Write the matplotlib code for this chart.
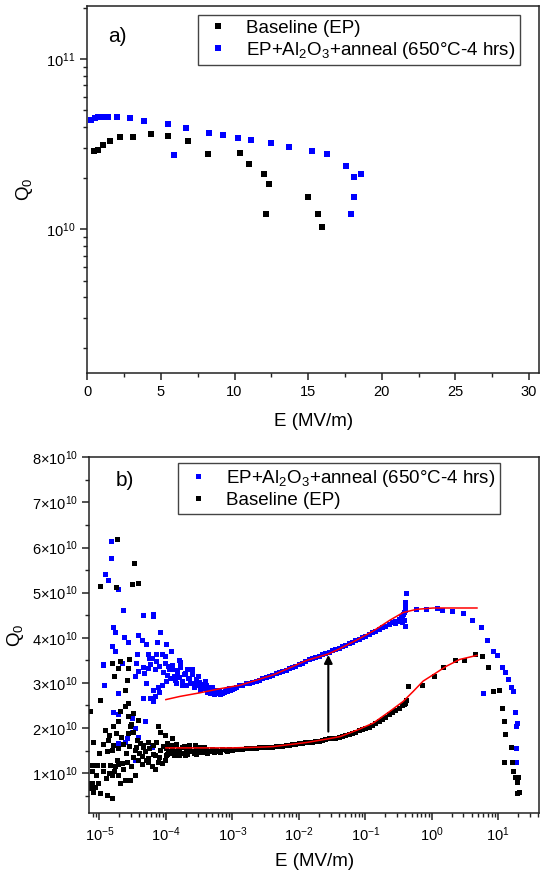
import numpy as np
import matplotlib
matplotlib.use('Agg')
import matplotlib.pyplot as plt
from matplotlib.ticker import (MultipleLocator, LogLocator, FuncFormatter,
                               FixedLocator, NullFormatter, LogFormatterSciNotation)

plt.rcParams['font.family'] = ['Liberation Sans', 'DejaVu Sans']
plt.rcParams['mathtext.fontset'] = 'custom'
plt.rcParams['mathtext.rm'] = 'Liberation Sans'
plt.rcParams['mathtext.it'] = 'Liberation Sans:italic'
plt.rcParams['mathtext.default'] = 'regular'

LBL_BASE = 'Baseline (EP)'
LBL_AL = 'EP+Al$_2$O$_3$+anneal (650°C-4 hrs)'

# ---- panel a) : Q0 vs E (linear E) ----
a_base_E = [0.43, 0.72, 1.06, 1.52, 2.19, 3.08, 4.32, 5.50, 6.86, 8.17, 10.34,
            11.0, 12.02, 12.31, 12.13, 15.0, 15.70, 15.93]
a_base_Q = [2.90e10, 2.93e10, 3.13e10, 3.31e10, 3.47e10, 3.48e10, 3.61e10, 3.56e10,
            3.31e10, 2.78e10, 2.81e10, 2.41e10, 2.13e10, 1.84e10, 1.24e10, 1.56e10,
            1.24e10, 1.03e10]
a_al_E = [0.27, 0.50, 0.72, 0.95, 1.18, 1.40, 2.01, 2.87, 3.87, 5.45, 5.86, 6.70,
          8.26, 9.19, 10.25, 11.13, 12.49, 13.71, 15.23, 16.27, 17.56, 18.10, 18.56,
          18.08, 17.88]
a_al_Q = [4.37e10, 4.54e10, 4.58e10, 4.58e10, 4.58e10, 4.58e10, 4.58e10, 4.50e10,
          4.34e10, 4.18e10, 2.75e10, 3.94e10, 3.66e10, 3.58e10, 3.44e10, 3.33e10,
          3.20e10, 3.05e10, 2.89e10, 2.79e10, 2.36e10, 2.02e10, 2.11e10, 1.54e10,
          1.24e10]

# ---- panel b) : Q0 vs E (log E), values as log10(E) and Q0/1e10 ----
b_al_logE = [-4.829, -4.824, -4.914, -4.865, -4.714, -4.639, -4.338, -4.188, -4.197,
             -4.789, -4.764, -4.092, -4.414, -4.629, -4.573, -4.362, -4.302, -4.128,
             -4.002, -4.814, -4.764, -3.917, -4.429, -4.263, -4.152, -4.062, -4.012,
             -4.212, -3.806, -4.940, -4.663, -4.012, -4.238,
             -4.940, -4.689, -4.463, -4.414, -4.323, -4.263, -4.162, -4.102, -4.012,
             -3.962, -3.911, -3.836, -3.786, -3.711, -3.662, -3.611, -3.561, -3.511,
             -3.460, -3.411, -3.361, -3.310, -3.260, -3.211, -3.159, -3.110, -4.062,
             -4.113, -3.862, -3.761, -4.238, -4.188, -4.338, -4.162, -4.714, -4.925,
             -4.789, -4.714, -4.513, -4.463, -4.513, -4.588, -4.614, -4.714, -4.414,
             -4.463, -4.313, -4.212,
             -4.05, -4.00, -3.98, -3.95, -3.93, -3.90, -3.88, -3.85, -3.83, -3.80,
             -3.78, -3.75, -3.73, -3.70, -3.68, -3.65, -3.63, -3.60, -3.58, -3.55,
             -3.53, -3.50, -3.48, -3.45, -3.43, -3.40, -3.38, -3.35, -3.33, -3.30,
             -3.28, -3.25, -3.23, -3.20, -3.18, -3.15, -3.13, -3.08, -3.03, -2.98,
             -4.15, -4.25, -4.35, -4.45, -4.30, -4.20, -4.10,
             -3.10, -3.05, -3.00, -2.95, -2.90, -2.85, -2.80, -2.75, -2.70, -2.65,
             -2.60, -2.55, -2.50, -2.45, -2.40, -2.35, -2.30, -2.25, -2.20, -2.15,
             -2.10, -2.05, -2.00, -1.95, -1.90, -1.85, -1.80, -1.75, -1.70, -1.65,
             -1.60, -1.55, -1.50, -1.45, -1.40, -1.35, -1.30, -1.25, -1.20, -1.15,
             -1.10, -1.05, -1.00, -0.95, -0.90, -0.85, -0.80, -0.75, -0.70, -0.65,
             -0.60, -0.55, -0.50, -0.47, -0.45, -0.43, -0.42, -0.41, -0.40,
             -0.39, -0.40, -0.41, -0.42, -0.40, -0.45, -0.50, -0.55,
             -0.238, -0.087, 0.074, 0.158, 0.308, 0.474, 0.600, 0.735, 0.830, 0.925,
             0.976, 1.051, 1.101, 1.150, 1.191, 1.226, 0.774, 1.251, 1.276, 1.266,
             1.261, 1.266]
b_al_Q = [6.15, 5.77, 5.42, 5.29, 5.07, 4.61, 4.50, 4.52, 4.48, 4.24, 4.13, 4.12,
          4.07, 4.01, 3.91, 3.94, 3.87, 3.90, 3.87, 3.81, 3.70, 3.70, 3.64, 3.64,
          3.64, 3.64, 3.60, 3.56, 3.51, 3.42, 3.43, 3.45, 3.41,
          3.40, 3.48, 3.15, 3.26, 3.21, 3.33, 3.30, 3.37, 3.44, 3.37, 3.30, 3.22,
          3.46, 3.22, 3.11, 3.30, 3.00, 3.15, 2.92, 3.04, 2.85, 2.92, 2.81, 2.85,
          2.78, 2.81, 2.96, 2.92, 3.07, 2.96, 2.67, 2.59, 2.67, 2.70, 2.78, 2.96,
          2.35, 2.30, 2.22, 2.00, 1.92, 1.78, 1.70, 1.67, 1.81, 1.30, 2.15, 1.59,
          3.25, 3.05, 3.18, 3.30, 3.10, 3.40, 3.15, 3.00, 3.28, 3.12,
          3.35, 3.05, 3.20, 2.95, 3.30, 3.10, 3.00, 3.20, 2.90, 3.08,
          2.95, 3.02, 2.85, 2.98, 2.88, 2.95, 2.80, 2.90, 2.78, 2.86,
          2.76, 2.84, 2.77, 2.82, 2.76, 2.80, 2.79, 2.83, 2.84, 2.89,
          3.48, 3.55, 3.35, 3.45, 3.00, 2.85, 2.80,
          2.85, 2.88, 2.86, 2.92, 2.95, 2.96, 2.99, 3.00, 3.03, 3.05,
          3.07, 3.10, 3.12, 3.15, 3.18, 3.21, 3.24, 3.26, 3.29, 3.32,
          3.35, 3.38, 3.41, 3.45, 3.49, 3.52, 3.55, 3.57, 3.60, 3.63,
          3.66, 3.69, 3.72, 3.75, 3.78, 3.82, 3.85, 3.88, 3.91, 3.95,
          3.98, 4.01, 4.05, 4.08, 4.12, 4.16, 4.20, 4.24, 4.26, 4.30,
          4.34, 4.38, 4.42, 4.45, 4.48, 4.52, 4.58, 4.62, 4.68,
          5.00, 4.80, 4.72, 4.40, 4.26, 4.36, 4.38, 4.33,
          4.64, 4.63, 4.65, 4.61, 4.59, 4.56, 4.39, 4.24, 3.96, 3.70,
          3.61, 3.36, 3.24, 3.09, 2.91, 2.83, 2.78, 2.36, 2.11, 2.04,
          1.56, 1.24]

b_base_logE = [-4.738, -4.474, -4.989, -4.749, -4.513, -4.423, -4.689, -4.549,
               -5.140, -4.989, -4.814, -4.714, -4.564, -4.774, -4.588, -4.614, -4.564,
               -4.614, -4.689, -4.714, -4.564, -4.489, -4.414, -4.538, -4.489, -4.914,
               -5.090, -4.865, -4.789, -4.889, -4.814, -4.714, -4.438, -4.388, -4.338,
               -4.463, -4.263, -4.188, -4.113, -4.087, -4.012, -3.911, -4.362, -4.263,
               -4.212, -4.062, -4.012, -4.162, -4.313, -4.087, -3.962, -5.114, -5.039,
               -4.940, -4.839, -5.114, -4.764, -4.738, -4.663, -4.814, -4.714, -4.614,
               -4.538, -4.689, -4.463, -5.114, -5.065, -5.015, -5.090, -4.989, -4.889,
               -4.814, -5.140, -5.165, -3.911, -3.812, -3.711, -3.611, -3.561, -3.987,
               -3.836, -3.711,
               -4.60, -4.55, -4.50, -4.45, -4.40, -4.35, -4.30, -4.25, -4.20, -4.15,
               -4.10, -4.05, -4.00, -3.95, -3.90, -3.85, -3.80, -3.75, -3.65, -3.55,
               -3.45, -4.65, -4.58, -4.52, -4.42, -4.36, -4.27, -4.17, -4.12, -5.05,
               -4.95, -4.90, -4.85, -4.78, -4.72, -5.00, -4.95, -4.85, -4.80, -4.75,
               -4.68, -4.65, -4.57, -4.52,
               -4.00, -3.95, -3.90, -3.85, -3.80, -3.75, -3.70, -3.65, -3.60, -3.55,
               -3.50, -3.45, -3.40, -3.35, -3.30, -3.25, -3.20, -3.15, -3.10, -3.05,
               -3.00, -2.95, -2.90, -2.85, -2.80, -2.75, -2.70, -2.65, -2.60, -2.55,
               -2.50, -2.45, -2.40, -2.35, -2.30, -2.25, -2.20, -2.15, -2.10, -2.05,
               -2.00, -1.95, -1.90, -1.85, -1.80, -1.75, -1.70, -1.65, -1.60, -1.55,
               -1.50, -1.45, -1.40, -1.35, -1.30, -1.25, -1.20, -1.15, -1.10, -1.05,
               -1.00, -0.95, -0.90, -0.85, -0.80, -0.75, -0.70, -0.65, -0.60, -0.55,
               -0.50, -0.45, -0.42, -0.40, -0.38,
               -3.98, -3.88, -3.78, -3.68, -3.58, -3.48, -3.38, -3.28, -3.18, -3.08,
               -3.92, -3.72, -3.52, -3.42,
               -0.353, -0.152, 0.033, 0.173, 0.349, 0.489, 0.650, 0.750, 0.841, 0.925,
               1.015, 1.051, 1.090, 1.101, 1.186, 1.090, 1.211, 1.217, 1.251, 1.301,
               1.276, 1.276, 1.316]
b_base_Q = [6.20, 5.66, 5.14, 5.12, 5.19, 5.22, 3.49, 3.53,
            2.37, 2.63, 3.44, 3.33, 3.33, 3.16, 3.07, 2.85, 2.56, 2.48, 2.37, 2.15,
            2.26, 2.33, 2.18, 2.04, 1.92, 1.96, 1.70, 1.74, 1.63, 1.48, 1.52, 1.56,
            1.74, 1.67, 1.59, 1.52, 1.70, 1.63, 2.04, 1.92, 1.85, 1.78, 1.37, 1.33,
            1.15, 1.22, 1.30, 1.41, 1.48, 1.52, 1.48, 1.18, 1.18, 1.18, 1.18, 1.04,
            1.15, 1.30, 1.22, 0.96, 0.96, 0.85, 0.84, 0.78, 0.96, 0.78, 0.70, 0.78,
            0.59, 0.56, 0.52, 0.44, 0.67, 0.78, 1.56, 1.52, 1.59, 1.48, 1.63, 1.67,
            1.41, 1.41,
            1.45, 1.60, 1.35, 1.58, 1.45, 1.62, 1.30, 1.55, 1.42, 1.70,
            1.35, 1.60, 1.40, 1.62, 1.45, 1.65, 1.40, 1.44, 1.62, 1.43,
            1.57, 1.10, 1.25, 1.15, 1.30, 1.20, 1.25, 1.10, 1.25, 0.95,
            1.05, 0.90, 1.00, 1.05, 1.20, 1.45, 1.65, 1.85, 2.05, 1.90,
            1.80, 1.65, 1.90, 2.10,
            1.55, 1.50, 1.56, 1.48, 1.53, 1.57, 1.50, 1.54, 1.49, 1.55,
            1.52, 1.47, 1.53, 1.50, 1.54, 1.51, 1.49, 1.53, 1.51, 1.54,
            1.52, 1.53, 1.54, 1.53, 1.55, 1.55, 1.56, 1.56, 1.57, 1.58,
            1.58, 1.59, 1.59, 1.60, 1.61, 1.61, 1.62, 1.63, 1.64, 1.65,
            1.66, 1.67, 1.68, 1.69, 1.70, 1.71, 1.72, 1.74, 1.75, 1.77,
            1.78, 1.79, 1.81, 1.83, 1.85, 1.87, 1.89, 1.92, 1.95, 1.97,
            2.00, 2.03, 2.07, 2.11, 2.16, 2.20, 2.25, 2.31, 2.36, 2.40,
            2.45, 2.50, 2.53, 2.56, 2.62,
            1.42, 1.40, 1.45, 1.43, 1.44, 1.46, 1.45, 1.47, 1.46, 1.48,
            1.62, 1.60, 1.59, 1.58,
            2.94, 2.96, 3.15, 3.35, 3.50, 3.50, 3.65, 3.59, 3.35, 2.81,
            2.84, 2.44, 2.15, 1.87, 1.58, 1.24, 1.24, 1.04, 0.92, 0.92,
            0.81, 0.56, 0.58]

# fitted curves (red)
fit_al_logE = [-4.00, -3.79, -3.49, -3.19, -2.88, -2.38, -1.88, -1.56, -1.38, -1.13,
               -0.88, -0.63, -0.43, -0.23, 0.02, 0.37, 0.68]
fit_al_Q = [2.63, 2.70, 2.78, 2.87, 2.95, 3.18, 3.50, 3.64, 3.76, 3.95,
            4.15, 4.39, 4.56, 4.63, 4.66, 4.66, 4.66]
fit_base_logE = [-4.00, -3.50, -3.00, -2.51, -2.38, -1.88, -1.56, -1.38, -1.13, -0.88,
                 -0.63, -0.43, -0.28, -0.13, 0.02, 0.22, 0.42, 0.68]
fit_base_Q = [1.56, 1.56, 1.56, 1.58, 1.59, 1.68, 1.76, 1.81, 1.95, 2.11,
              2.37, 2.59, 2.81, 3.04, 3.18, 3.37, 3.52, 3.61]

arrow_E = 0.0278
arrow_Q = (1.92e10, 3.62e10)

fig = plt.figure(figsize=(5.4, 8.72), dpi=100)
ax1 = fig.add_axes([0.1617, 0.5719, 0.8370, 0.4212])
ax2 = fig.add_axes([0.1657, 0.0673, 0.8324, 0.4083])

leg_kw = dict(fontsize=13.5, frameon=True, fancybox=False, edgecolor='#444444',
              framealpha=1, borderaxespad=0, handlelength=1.6, handletextpad=0.7,
              borderpad=0.25, labelspacing=0.15, numpoints=1)

ms_a = 4.4
ax1.plot(a_base_E, a_base_Q, 's', color='black', ms=ms_a, mew=0, label=LBL_BASE)
ax1.plot(a_al_E, a_al_Q, 's', color='#0000FF', ms=ms_a, mew=0, label=LBL_AL)
ax1.set_yscale('log')
ax1.set_xlim(0, 30.7)
ax1.set_ylim(1.43e9, 2.05e11)
ax1.xaxis.set_major_locator(MultipleLocator(5))
ax1.xaxis.set_minor_locator(MultipleLocator(2.5))
ax1.yaxis.set_major_locator(FixedLocator([1e10, 1e11]))
ax1.yaxis.set_major_formatter(LogFormatterSciNotation())
ax1.yaxis.set_minor_locator(LogLocator(base=10, subs=np.arange(2, 10)))
ax1.yaxis.set_minor_formatter(NullFormatter())
ax1.set_xlabel('E (MV/m)', fontsize=13.5, labelpad=10)
ax1.set_ylabel('Q$_0$', fontsize=13.5, labelpad=8)
ax1.text(0.066, 0.916, 'a)', transform=ax1.transAxes, fontsize=15,
         ha='center', va='center')
ax1.legend(loc='upper right', bbox_to_anchor=(0.957, 0.9755), **leg_kw)

ms_b = 3.6
ax2.plot(10 ** np.array(b_al_logE), np.array(b_al_Q) * 1e10, 's', color='#0000FF',
         ms=ms_b, mew=0, label=LBL_AL)
ax2.plot(10 ** np.array(b_base_logE), np.array(b_base_Q) * 1e10, 's', color='black',
         ms=ms_b, mew=0, label=LBL_BASE)
ax2.plot(10 ** np.array(fit_al_logE), np.array(fit_al_Q) * 1e10, '-', color='red', lw=1.1)
ax2.plot(10 ** np.array(fit_base_logE), np.array(fit_base_Q) * 1e10, '-', color='red', lw=1.1)
ax2.annotate('', xy=(arrow_E, arrow_Q[1]), xytext=(arrow_E, arrow_Q[0]),
             arrowprops=dict(arrowstyle='-|>', color='black', lw=1.5,
                             mutation_scale=12, shrinkA=0, shrinkB=0))
ax2.set_xscale('log')
ax2.set_xlim(7.1e-6, 41)
ax2.set_ylim(1.1e9, 8.0e10)
ax2.xaxis.set_major_locator(FixedLocator([1e-5, 1e-4, 1e-3, 1e-2, 1e-1, 1e0, 1e1]))
ax2.xaxis.set_major_formatter(LogFormatterSciNotation())
ax2.xaxis.set_minor_locator(LogLocator(base=10, subs=np.arange(2, 10), numticks=20))
ax2.xaxis.set_minor_formatter(NullFormatter())
ax2.yaxis.set_major_locator(FixedLocator([k * 1e10 for k in range(1, 9)]))
ax2.yaxis.set_minor_locator(MultipleLocator(0.5e10))


def sci_fmt(v, pos):
    n = int(round(v / 1e10))
    return r'$%d{\times}10^{10}$' % n


ax2.yaxis.set_major_formatter(FuncFormatter(sci_fmt))
ax2.set_xlabel('E (MV/m)', fontsize=13.5, labelpad=7)
ax2.set_ylabel('Q$_0$', fontsize=13.5, labelpad=4)
ax2.text(0.079, 0.936, 'b)', transform=ax2.transAxes, fontsize=15,
         ha='center', va='center')
ax2.legend(loc='upper right', bbox_to_anchor=(0.913, 0.983), **leg_kw)

for ax in (ax1, ax2):
    for s in ax.spines.values():
        s.set_linewidth(1.1)
        s.set_color('#222222')
    ax.tick_params(which='both', direction='out', top=False, right=False,
                   labelsize=10.5, color='#222222')
    ax.tick_params(which='major', length=5, width=1.1)
    ax.tick_params(which='minor', length=3, width=1.0)

fig.savefig('out.png', dpi=100)
